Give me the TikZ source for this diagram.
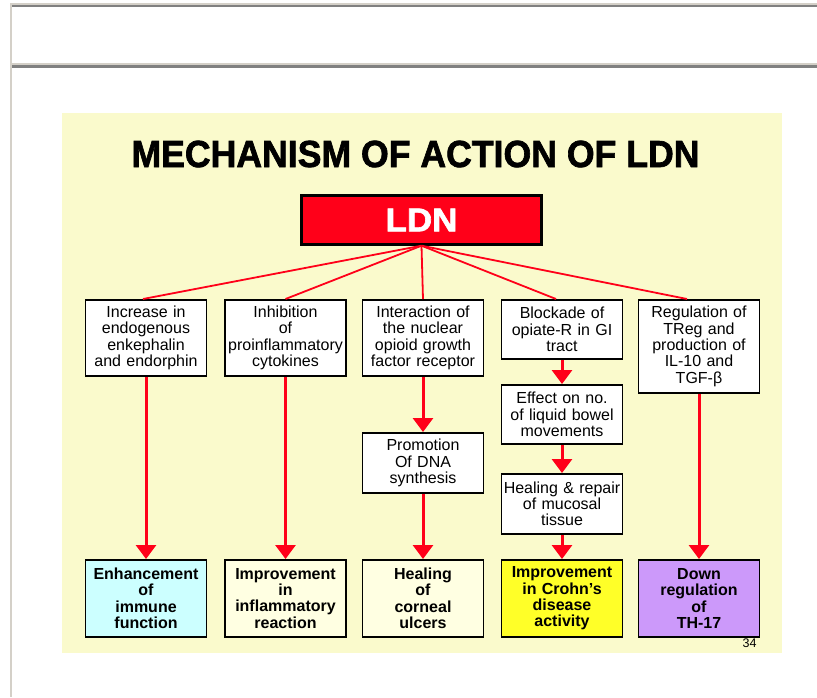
\documentclass[tikz,border=0pt]{standalone}
\usepackage{fontspec}
\setmainfont{Liberation Sans}
\newfontfamily\heavyfont{Liberation Sans}[BoldFeatures={FakeBold=1.8}]
\usetikzlibrary{arrows.meta}
\definecolor{panel}{RGB}{250,250,204}
\definecolor{ldnred}{RGB}{255,0,25}
\definecolor{cream}{RGB}{255,255,226}
\definecolor{aqua}{RGB}{204,255,255}
\definecolor{lemon}{RGB}{255,255,40}
\definecolor{lilac}{RGB}{204,153,250}
\definecolor{rulelight}{RGB}{212,208,200}
\definecolor{ruledark}{RGB}{128,128,128}
\tikzstyle{flow} = [line width=3pt, ldnred, -{Triangle[width=20pt,length=14pt]}]

\begin{document}
\begin{tikzpicture}[x=1pt, y=-1pt,
		box/.style={draw=black, line width=1.8pt, fill=white, align=center,
			text width=119pt, inner xsep=1pt, inner ysep=0pt,
			font=\fontsize{16}{16.3}\selectfont},
		res/.style={box, minimum height=77pt,
			font=\fontsize{16}{16.3}\selectfont\bfseries},
		link/.style={ldnred, line width=1.8pt}]
		
		\useasboundingbox (0,0) rectangle (817,697);
		
		\fill[rulelight] (10,3) rectangle (817,4.7);
		\fill[ruledark] (11.7,4.7) rectangle (817,6.7);
		\fill[rulelight] (10,3) rectangle (11.7,697);
		\fill[rulelight] (11.7,62.7) rectangle (817,64.7);
		\fill[ruledark] (11.7,65.3) rectangle (817,67.7);
		\fill[panel] (62,113) rectangle (782,653);
		
		\node[anchor=base, font=\heavyfont\bfseries\fontsize{37.7}{40}\selectfont]
		(title) at (415.5,167) {\scalebox{0.945}[1]{MECHANISM OF ACTION OF LDN}};
		
		\node[draw=black, line width=2.4pt, fill=ldnred, text=white,
		minimum width=240pt, minimum height=49pt,
		font=\heavyfont\bfseries\fontsize{33}{35}\selectfont]
		(ldn) at (421.5,220) {\scalebox{1.06}[1]{LDN}};
		
		\node[box, minimum height=76pt, anchor=north] (inc) at (146,299)
		{Increase in\\endogenous\\enkephalin\\and endorphin};
		\node[box, minimum height=76pt, anchor=north] (inh) at (285.5,299)
		{Inhibition\\of\\proinflammatory\\cytokines};
		\node[box, minimum height=76pt, anchor=north] (nuc) at (423,299)
		{Interaction of\\the nuclear\\opioid growth\\factor receptor};
		\node[box, minimum height=59pt, anchor=north] (blk) at (562,299)
		{Blockade of\\opiate-R in GI\\tract};
		\node[box, minimum height=93pt, anchor=north] (reg) at (699,299)
		{Regulation of\\TReg and\\production of\\IL-10 and\\TGF-β};
		
		\node[box, minimum height=60pt, anchor=north] (dna) at (423,432)
		{Promotion\\Of DNA\\synthesis};
		\node[box, minimum height=59pt, anchor=north] (eff) at (562,384)
		{Effect on no.\\of liquid bowel\\movements};
		\node[box, minimum height=60pt, anchor=north] (muc) at (562,473)
		{Healing \& repair\\of mucosal\\tissue};
		
		\node[res, fill=aqua, anchor=north] (imm) at (146,559)
		{Enhancement\\of\\immune\\function};
		\node[res, fill=cream, anchor=north] (infl) at (285.5,559)
		{Improvement\\in\\inflammatory\\reaction};
		\node[res, fill=cream, anchor=north] (corn) at (423,559)
		{Healing\\of\\corneal\\ulcers};
		\node[res, fill=lemon, anchor=north] (crohn) at (562,559)
		{Improvement\\in Crohn’s\\disease\\activity};
		\node[res, fill=lilac, anchor=north] (th) at (699,559)
		{Down\\regulation\\of\\TH-17};
		
		\node[anchor=base east, font=\fontsize{12.5}{14}\selectfont] (page) at (760,647) {34};
		
		\draw[link] (ldn.south) -- ([xshift=-3pt]inc.north);
		\draw[link] (ldn.south) -- (inh.north);
		\draw[link] (ldn.south) -- (nuc.north);
		\draw[link] (ldn.south) -- ([xshift=-6pt]blk.north);
		\draw[link] (ldn.south) -- ([xshift=-12pt]reg.north);
		
		\draw[flow] (inc) -- (imm);
		\draw[flow] (inh) -- (infl);
		\draw[flow] (nuc) -- (dna);
		\draw[flow] (dna) -- (corn);
		\draw[flow] (blk) -- (eff);
		\draw[flow] (eff) -- (muc);
		\draw[flow] (muc) -- (crohn);
		\draw[flow] (reg) -- (th);
		
	\end{tikzpicture}
\end{document}
